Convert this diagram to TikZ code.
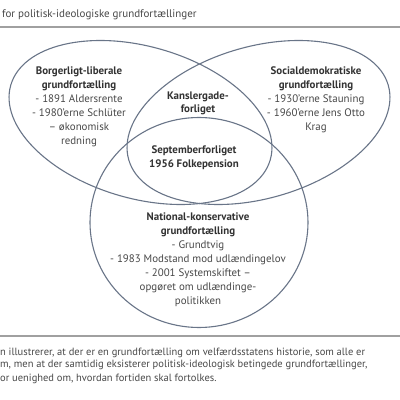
\documentclass[tikz,border=0pt]{standalone}
\usepackage{fontspec}
\setmainfont{PT Sans}
\definecolor{ellc}{RGB}{105,117,136}
\definecolor{boldc}{RGB}{50,50,50}
\definecolor{regc}{RGB}{72,72,72}
\definecolor{rulec}{RGB}{160,160,160}
\begin{document}
\begin{tikzpicture}[x=1pt,y=1pt,
  ell/.style={draw=ellc,line width=1.1pt},
  lbl/.style={align=center,text=regc,font=\fontsize{10.9}{14}\selectfont,inner sep=0pt},
  captxt/.style={anchor=base west,text=regc,font=\fontsize{10.5}{12}\selectfont,inner sep=0pt},
  rulestyle/.style={draw=rulec,line width=1.4pt}]
\useasboundingbox (0,0) rectangle (400,400);
\clip (0,0) rectangle (400,400);
\fill[white] (0,0) rectangle (400,400);
% rules
\coordinate (r1a) at (0,373); \coordinate (r1b) at (400,373);
\coordinate (r2a) at (0,64); \coordinate (r2b) at (400,64);
\draw[rulestyle] (r1a) -- (r1b);
\draw[rulestyle] (r2a) -- (r2b);
% title
\node[captxt,font=\fontsize{11}{13}\selectfont] (title) at (2,382) {for politisk-ideologiske grundfortællinger};
% ellipses
\draw[ell, rotate around={-16:(140.5,277.5)}] (140.5,277.5) ellipse [x radius=135, y radius=76];
\draw[ell, rotate around={16:(258.5,277.5)}] (258.5,277.5) ellipse [x radius=135, y radius=76];
\draw[ell] (199,177.5) ellipse [x radius=109, y radius=105];
% labels
\node[lbl] (lib) at (79,293) {\textcolor{boldc}{\bfseries Borgerligt-liberale}\\\textcolor{boldc}{\bfseries grundfortælling}\\- 1891 Aldersrente\\- 1980’erne Schlüter\\– økonomisk\\redning};
\node[lbl] (soc) at (316,300) {\textcolor{boldc}{\bfseries Socialdemokratiske}\\\textcolor{boldc}{\bfseries grundfortælling}\\- 1930’erne Stauning\\- 1960’erne Jens Otto\\Krag};
\node[lbl,text=boldc,font=\fontsize{10.9}{13}\selectfont\bfseries] (kans) at (198,297) {Kanslergade-\\forliget};
\node[lbl,text=boldc,font=\fontsize{10.9}{14}\selectfont\bfseries] (sept) at (194,242) {Septemberforliget\\1956 Folkepension};
\node[lbl] (nat) at (198,140) {\textcolor{boldc}{\bfseries National-konservative}\\\textcolor{boldc}{\bfseries grundfortælling}\\- Grundtvig\\- 1983 Modstand mod udlændingelov\\- 2001 Systemskiftet –\\opgøret om udlændinge-\\politikken};
% caption
\node[captxt] (c1) at (0,45) {n illustrerer, at der er en grundfortælling om velfærdsstatens historie, som alle er};
\node[captxt] (c2) at (0,32) {m, men at der samtidig eksisterer politisk-ideologisk betingede grundfortællinger,};
\node[captxt] (c3) at (0,18) {or uenighed om, hvordan fortiden skal fortolkes.};
\end{tikzpicture}
\end{document}
